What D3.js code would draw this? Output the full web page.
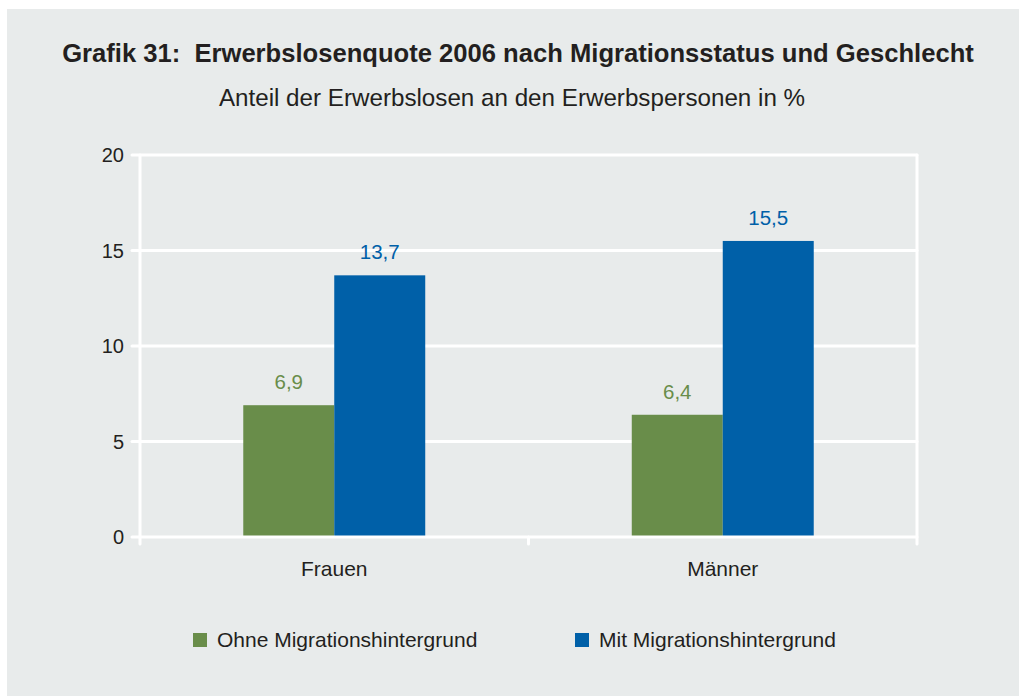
<!DOCTYPE html>
<html>
<head>
<meta charset="utf-8">
<script src="https://cdn.jsdelivr.net/npm/d3@7"></script>
<style>
  body { margin: 0; background: #fff; }
  svg text { font-family: Arial, "Liberation Sans", Helvetica, sans-serif; }
</style>
</head>
<body>
<div id="chart"></div>
<script>
const categories = ['Frauen', 'Männer']
const seriesNames = ['Ohne Migrationshintergrund', 'Mit Migrationshintergrund']
const ohne = [6.9, 6.4]
const mit = [13.7, 15.5]
const yTicks = [0, 5, 10, 15, 20]

const width = 1019
const height = 696
const colors = ['#698d4a', '#0060a8']
const textColor = '#231f20'

const svg = d3.select('#chart')
    .append('svg')
    .attr('width', width)
    .attr('height', height)

// grey panel
svg.append('rect')
    .attr('x', 7)
    .attr('y', 9)
    .attr('width', width - 7)
    .attr('height', height - 9)
    .attr('fill', '#e8ebeb')

svg.append('text')
    .attr('x', 518)
    .attr('y', 62)
    .attr('text-anchor', 'middle')
    .attr('font-size', 25.6)
    .attr('font-weight', 'bold')
    .attr('fill', textColor)
    .attr('xml:space', 'preserve')
    .text('Grafik 31:  Erwerbslosenquote 2006 nach Migrationsstatus und Geschlecht')

svg.append('text')
    .attr('x', 512)
    .attr('y', 106)
    .attr('text-anchor', 'middle')
    .attr('font-size', 24.2)
    .attr('fill', textColor)
    .text('Anteil der Erwerbslosen an den Erwerbspersonen in %')

const plotLeft = 140, plotRight = 917, plotTop = 155, plotBottom = 537

const x = d3.scaleBand()
    .domain(categories)
    .range([plotLeft, plotRight])

const x1 = d3.scaleBand()
    .domain([0, 1])
    .range([0, x.bandwidth()])
    .paddingOuter(1.135)

const y = d3.scaleLinear()
    .domain([0, 20])
    .range([plotBottom, plotTop])

const g = svg.append('g')

// gridlines
g.selectAll('line.grid')
    .data(yTicks.filter(d => d > 0))
    .enter()
    .append('line')
    .attr('class', 'grid')
    .attr('x1', plotLeft - 8)
    .attr('x2', plotRight)
    .attr('y1', d => y(d))
    .attr('y2', d => y(d))
    .attr('stroke', '#fff')
    .attr('stroke-width', 3)
    .attr('stroke-linecap', 'round')

// frame: left and right verticals
g.selectAll('line.vert')
    .data([plotLeft, plotRight])
    .enter()
    .append('line')
    .attr('x1', d => d)
    .attr('x2', d => d)
    .attr('y1', plotTop)
    .attr('y2', plotBottom + 7)
    .attr('stroke', '#fff')
    .attr('stroke-width', 3)
    .attr('stroke-linecap', 'round')

// y tick labels
g.selectAll('text.ytick')
    .data(yTicks)
    .enter()
    .append('text')
    .attr('x', 124)
    .attr('y', d => y(d) + 7)
    .attr('text-anchor', 'end')
    .attr('font-size', 20)
    .attr('fill', textColor)
    .text(d => d)

// bars
const data = categories.map((c, i) => ({cat: c, values: [ohne[i], mit[i]]}))

const groups = g.selectAll('g.cat')
    .data(data)
    .enter()
    .append('g')
    .attr('transform', d => 'translate(' + x(d.cat) + ',0)')

groups.selectAll('rect')
    .data(d => d.values)
    .enter()
    .append('rect')
    .attr('x', (d, i) => x1(i))
    .attr('width', x1.bandwidth())
    .attr('y', d => y(d))
    .attr('height', d => y(0) - y(d))
    .attr('fill', (d, i) => colors[i])

groups.selectAll('text.val')
    .data(d => d.values)
    .enter()
    .append('text')
    .attr('x', (d, i) => x1(i) + x1.bandwidth() / 2)
    .attr('y', d => y(d) - 16)
    .attr('text-anchor', 'middle')
    .attr('font-size', 20.5)
    .attr('fill', (d, i) => colors[i])
    .text(d => d3.format('.1f')(d).replace('.', ','))

// x axis line + ticks
g.append('line')
    .attr('x1', plotLeft - 8)
    .attr('x2', plotRight)
    .attr('y1', plotBottom)
    .attr('y2', plotBottom)
    .attr('stroke', '#fff')
    .attr('stroke-width', 3)
    .attr('stroke-linecap', 'round')

g.append('line')
    .attr('x1', x('Männer'))
    .attr('x2', x('Männer'))
    .attr('y1', plotBottom)
    .attr('y2', plotBottom + 7)
    .attr('stroke', '#fff')
    .attr('stroke-width', 3)
    .attr('stroke-linecap', 'round')

g.selectAll('text.cat')
    .data(categories)
    .enter()
    .append('text')
    .attr('x', d => x(d) + x.bandwidth() / 2)
    .attr('y', 576)
    .attr('text-anchor', 'middle')
    .attr('font-size', 21)
    .attr('fill', textColor)
    .text(d => d)

// legend
const legendX = [193, 575]
const legend = svg.selectAll('g.legend')
    .data(seriesNames)
    .enter()
    .append('g')
    .attr('transform', (d, i) => 'translate(' + legendX[i] + ',633)')

legend.append('rect')
    .attr('width', 14)
    .attr('height', 14)
    .attr('fill', (d, i) => colors[i])

legend.append('text')
    .attr('x', 24)
    .attr('y', 13.5)
    .attr('font-size', 21)
    .attr('fill', textColor)
    .text(d => d)
</script>
</body>
</html>
